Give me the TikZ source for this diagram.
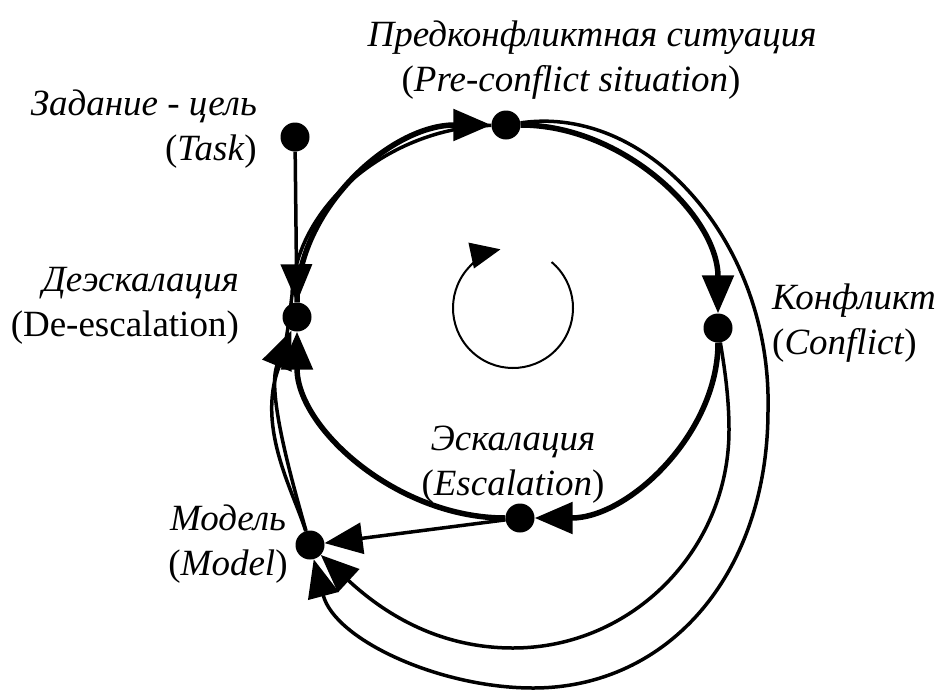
\documentclass[tikz,border=0pt]{standalone}
\usepackage{fontspec}
\setmainfont{Liberation Serif}
\usetikzlibrary{arrows.meta}
\begin{document}
\begin{tikzpicture}[x=1pt,y=-1pt,
  dot/.style={circle,fill=black,inner sep=0pt,minimum size=29pt},
  lbl/.style={inner sep=0pt,font=\fontsize{37}{45}\selectfont},
  mainarc/.style={line width=5.5pt,-{Triangle[length=38pt,width=31pt]}},
  link/.style={line width=3.5pt,-{Triangle[length=38pt,width=31pt]}},
  plain/.style={line width=3.5pt},
  cycle arrow/.style={line width=2pt,-{Triangle[length=30pt,width=26pt]}}]
\useasboundingbox (0,0) rectangle (942,691);

% dots
\node[dot] (T) at (295,137) {};
\node[dot] (P) at (506,125) {};
\node[dot] (D) at (297,317) {};
\node[dot] (C) at (718,328) {};
\node[dot] (E) at (520,518) {};
\node[dot] (M) at (310,545) {};

% labels
\node[lbl,anchor=east,align=right] (Tl) at (257,129) {\textit{Задание - цель}\\(\textit{Task})};
\node[lbl] (Pl1) at (592,38) {\textit{Предконфликтная ситуация}};
\node[lbl] (Pl2) at (571,82) {(\textit{Pre-conflict situation})};
\node[lbl,anchor=east,align=right] (Dl) at (239,306) {\textit{Деэскалация}\\(De-escalation)};
\node[lbl,anchor=west,align=left] (Cl) at (772,323) {\textit{Конфликт}\\(\textit{Conflict})};
\node[lbl,align=center] (El) at (513,465) {\textit{Эскалация}\\(\textit{Escalation})};
\node[lbl,align=center] (Ml) at (228,544) {\textit{Модель}\\(\textit{Model})};

% main loop
\draw[mainarc] (D) .. controls (297,210) and (390,125) .. (P);
\draw[mainarc] (P) .. controls (623,125) and (718,216) .. (C);
\draw[mainarc] (C) .. controls (718,433) and (629,518) .. (E);
\draw[mainarc] (E) .. controls (397,518) and (297,428) .. (D);

% task
\draw[link] (T) -- (D);

% escalation -> model
\draw[link] (E) -- (M);

% conflict -> model
\draw[link] (C) .. controls (724,365) and (729,395) .. (729,430)
  .. controls (729,550) and (632,648) .. (513,648)
  .. controls (430,648) and (375,605) .. (M);

% pre-conflict -> model (outer)
\draw[link] (P) .. controls (650,104) and (772,245) .. (768,410)
  .. controls (768,572) and (670,688) .. (533,688)
  .. controls (440,688) and (335,640) .. (M);

% model -> de-escalation
\draw[link] (M) .. controls (294,488) and (266,392) .. (D);

% model -> pre-conflict (along the left)
\draw[plain] (M) .. controls (293,490) and (254,424) .. (281,362)
  .. controls (287,340) and (289,320) .. (292,295)
  .. controls (295,205) and (390,128) .. (P);

% small cycle
\coordinate (cyc) at (513,308);
\draw[cycle arrow] (cyc) ++(-50:60) arc[start angle=-50,end angle=258,radius=60];
\end{tikzpicture}
\end{document}
